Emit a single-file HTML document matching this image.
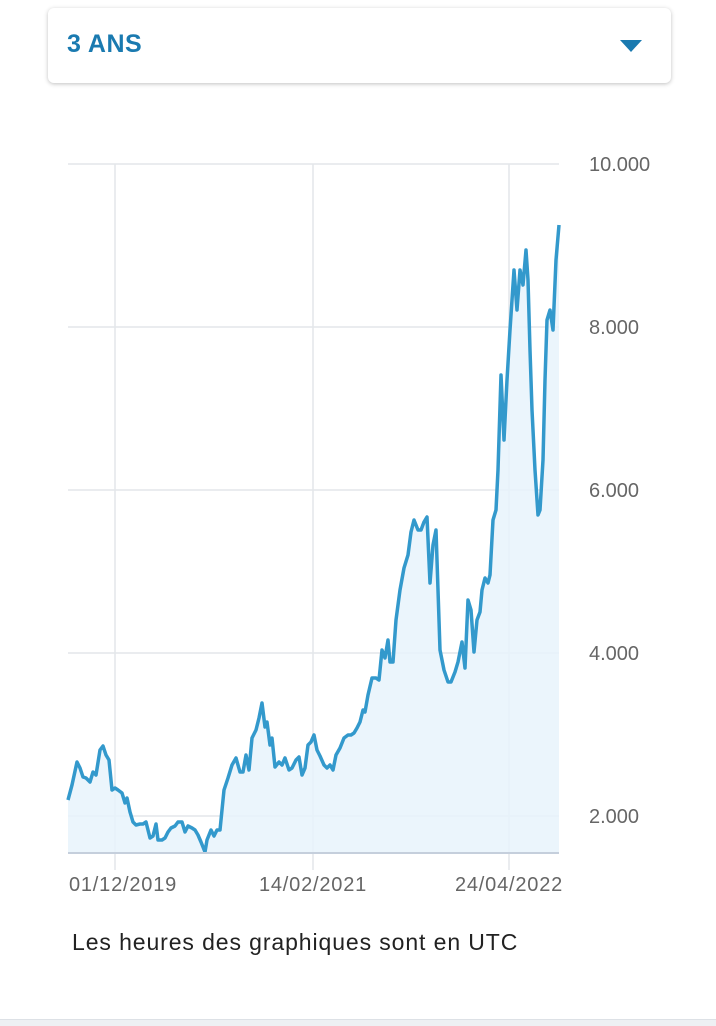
<!DOCTYPE html>
<html><head><meta charset="utf-8"><style>
body{margin:0;width:716px;height:1025px;background:#fff;font-family:"Liberation Sans",sans-serif;position:relative;overflow:hidden}
.card{position:absolute;left:48px;top:8px;width:623px;height:75px;border-radius:6px;background:#fff;box-shadow:0 1px 4px rgba(0,0,0,0.25)}
.card span{position:absolute;left:19px;top:22px;font-size:25px;font-weight:bold;color:#1a7ab0;letter-spacing:0.5px}
.tri{position:absolute;left:572px;top:32px;width:0;height:0;border-left:11px solid transparent;border-right:11px solid transparent;border-top:12px solid #1a7ab0}
.foot{position:absolute;left:72px;top:929px;font-size:23px;letter-spacing:0.9px;color:#222}
.bl{position:absolute;left:0;top:1019px;width:716px;height:6px;background:#eef0f3;border-top:1px solid #dde1e6}
</style></head><body>
<div class="card"><span>3 ANS</span><div class="tri"></div></div>
<svg width="716" height="1025" style="position:absolute;left:0;top:0">
<g stroke="#e3e6ea" stroke-width="1.5">
<line x1="68" y1="164" x2="559" y2="164"/><line x1="68" y1="327" x2="559" y2="327"/><line x1="68" y1="490" x2="559" y2="490"/><line x1="68" y1="653" x2="559" y2="653"/><line x1="68" y1="816" x2="559" y2="816"/>
<line x1="115" y1="164" x2="115" y2="870"/><line x1="313" y1="164" x2="313" y2="870"/><line x1="509" y1="164" x2="509" y2="870"/>
</g>
<polygon fill="#e8f3fb" fill-opacity="0.85" points="68,853 68,800 72,785 77,762 80,768 83,777 86,778 90,782 93,772 96,775 100,750 103,746 106,755 109,760 112,790 115,788 118,790 122,793 125,803 127,798 130,812 133,822 136,825 140,824 143,824 146,822 148,830 150,838 153,836 156,824 158,840 162,840 165,838 168,832 171,828 175,826 178,822 182,822 185,832 188,826 192,828 195,830 198,835 201,842 205,852 207,840 211,830 214,836 217,830 220,830 224,790 228,778 232,765 236,758 240,772 243,772 246,755 249,770 252,738 256,730 259,718 262,703 265,727 267,722 270,745 272,738 275,767 279,762 282,765 285,758 289,770 292,768 296,760 299,757 302,775 305,768 308,745 311,742 314,735 317,750 320,756 324,765 327,768 330,765 333,770 336,755 340,748 344,738 348,735 351,735 354,733 357,728 360,722 363,710 365,712 368,695 372,678 376,678 379,680 382,650 385,658 388,640 390,662 393,662 396,620 400,590 404,568 408,555 411,532 414,520 418,530 421,530 424,522 427,517 430,583 433,545 436,530 440,650 444,670 448,682 451,682 455,672 458,662 462,642 465,668 468,600 471,610 474,652 477,620 480,612 482,590 485,578 488,583 490,575 493,520 496,510 498,470 501,375 504,440 507,380 510,330 514,270 517,310 520,270 523,285 526,250 528,280 530,350 532,410 535,470 538,515 540,510 543,460 545,380 547,320 550,310 553,330 556,260 559,225 559,853"/>
<polyline fill="none" stroke="#3399cc" stroke-width="3.5" stroke-linejoin="round" points="68,800 72,785 77,762 80,768 83,777 86,778 90,782 93,772 96,775 100,750 103,746 106,755 109,760 112,790 115,788 118,790 122,793 125,803 127,798 130,812 133,822 136,825 140,824 143,824 146,822 148,830 150,838 153,836 156,824 158,840 162,840 165,838 168,832 171,828 175,826 178,822 182,822 185,832 188,826 192,828 195,830 198,835 201,842 205,852 207,840 211,830 214,836 217,830 220,830 224,790 228,778 232,765 236,758 240,772 243,772 246,755 249,770 252,738 256,730 259,718 262,703 265,727 267,722 270,745 272,738 275,767 279,762 282,765 285,758 289,770 292,768 296,760 299,757 302,775 305,768 308,745 311,742 314,735 317,750 320,756 324,765 327,768 330,765 333,770 336,755 340,748 344,738 348,735 351,735 354,733 357,728 360,722 363,710 365,712 368,695 372,678 376,678 379,680 382,650 385,658 388,640 390,662 393,662 396,620 400,590 404,568 408,555 411,532 414,520 418,530 421,530 424,522 427,517 430,583 433,545 436,530 440,650 444,670 448,682 451,682 455,672 458,662 462,642 465,668 468,600 471,610 474,652 477,620 480,612 482,590 485,578 488,583 490,575 493,520 496,510 498,470 501,375 504,440 507,380 510,330 514,270 517,310 520,270 523,285 526,250 528,280 530,350 532,410 535,470 538,515 540,510 543,460 545,380 547,320 550,310 553,330 556,260 559,225"/>
<line x1="68" y1="853" x2="559" y2="853" stroke="#c5cfdc" stroke-width="2"/>
<g font-family="Liberation Sans, sans-serif" font-size="20" fill="#666">
<text x="589" y="171">10.000</text><text x="589" y="334">8.000</text><text x="589" y="497">6.000</text><text x="589" y="660">4.000</text><text x="589" y="823">2.000</text>
</g>
<g font-family="Liberation Sans, sans-serif" font-size="20" fill="#666" letter-spacing="0.8" text-anchor="middle">
<text x="123" y="891">01/12/2019</text><text x="313" y="891">14/02/2021</text><text x="509" y="891">24/04/2022</text>
</g>
</svg>
<div class="foot">Les heures des graphiques sont en UTC</div>
<div class="bl"></div>
</body></html>
